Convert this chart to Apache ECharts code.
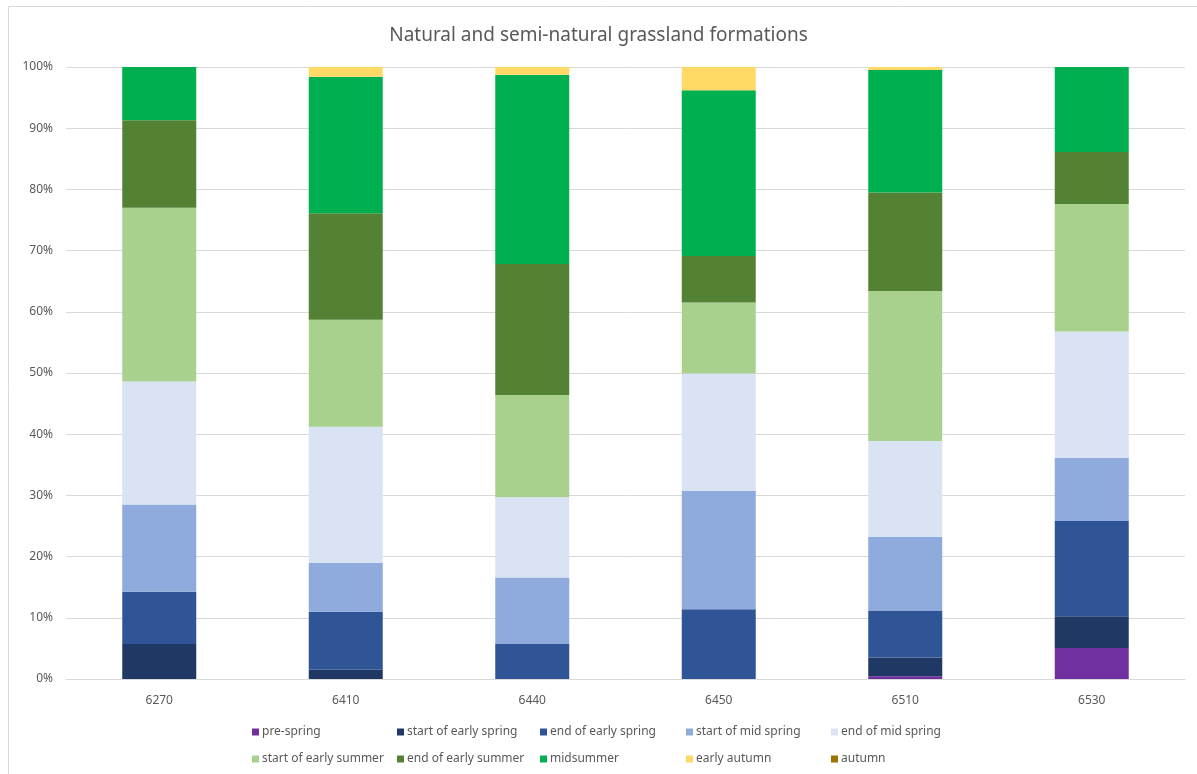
<!DOCTYPE html>
<html>
<head>
<meta charset="utf-8">
<script src="https://cdn.jsdelivr.net/npm/echarts@6/dist/echarts.min.js"></script>
<style>
  html, body { margin: 0; padding: 0; background: #fff; }
  #chart { width: 1197px; height: 774px; }
</style>
</head>
<body>
<div id="chart"></div>
<script>
// categories (site codes)
var categories = ['6270', '6410', '6440', '6450', '6510', '6530'];

// share of each phenological stage, in %
var preSpring          = [0,    0,    0,     0,    0.45, 5.05];
var startEarlySpring   = [5.7,  1.5,  0,     0,    3.05, 5.2];
var endEarlySpring     = [8.55, 9.5,  5.8,   11.4, 7.7,  15.55];
var startMidSpring     = [14.25,8.0,  10.8,  19.3, 12.0, 10.3];
var endMidSpring       = [20.1, 22.2, 13.1,  19.2, 15.7, 20.7];
var startEarlySummer   = [28.4, 17.5, 16.7,  11.6, 24.5, 20.8];
var endEarlySummer     = [14.3, 17.4, 21.4,  7.6,  16.1, 8.5];
var midsummer          = [8.7,  22.3, 30.95, 27.1, 20.0, 13.9];
var earlyAutumn        = [0,    1.6,  1.25,  3.8,  0.5,  0];
var autumn             = [0,    0,    0,     0,    0,    0];

var seriesNames = ['pre-spring', 'start of early spring', 'end of early spring',
  'start of mid spring', 'end of mid spring', 'start of early summer',
  'end of early summer', 'midsummer', 'early autumn', 'autumn'];
var seriesData = [preSpring, startEarlySpring, endEarlySpring, startMidSpring,
  endMidSpring, startEarlySummer, endEarlySummer, midsummer, earlyAutumn, autumn];
var colors = ['#7030A0', '#203864', '#2F5597', '#8FAADC', '#DAE3F3',
  '#A9D18E', '#548235', '#00B050', '#FFD966', '#9C7400'];

var fontFamily = '"Noto Sans", "Open Sans", sans-serif';

var series = [];
for (var i = 0; i < seriesNames.length; i++) {
  series.push({
    name: seriesNames[i],
    type: 'bar',
    stack: 'total',
    barWidth: 74,
    data: seriesData[i],
    itemStyle: { color: colors[i] }
  });
}

// legend laid out as a 5 x 2 table, one legend per entry
var legendCols = [252, 397, 540, 686, 831];
var legendRows = [726, 753];
var legends = [];
for (var j = 0; j < seriesNames.length; j++) {
  legends.push({
    data: [seriesNames[j]],
    left: legendCols[j % 5],
    top: legendRows[Math.floor(j / 5)],
    padding: 0,
    itemWidth: 7,
    itemHeight: 7,
    itemGap: 0,
    icon: 'rect',
    textStyle: { fontFamily: fontFamily, fontSize: 12, color: '#595959', padding: [0, 0, 0, -2] }
  });
}

var option = {
  animation: false,
  color: colors,
  title: {
    text: 'Natural and semi-natural grassland formations',
    left: 'center',
    top: 21,
    textStyle: { fontFamily: fontFamily, fontSize: 19, fontWeight: 'normal', color: '#595959' }
  },
  graphic: [{
    type: 'rect',
    shape: { x: 8.5, y: 6.5, width: 1300, height: 900 },
    style: { fill: 'none', stroke: '#d9d9d9', lineWidth: 1 },
    silent: true
  }],
  legend: legends,
  grid: {
    left: 66,
    right: 12,
    top: 67,
    bottom: 95
  },
  xAxis: {
    type: 'category',
    data: categories,
    axisLine: { lineStyle: { color: '#d9d9d9' } },
    axisTick: { show: false },
    axisLabel: { fontFamily: fontFamily, fontSize: 12, color: '#595959', margin: 16 }
  },
  yAxis: {
    type: 'value',
    min: 0,
    max: 100,
    interval: 10,
    axisLine: { show: false },
    axisTick: { show: false },
    splitLine: { lineStyle: { color: '#d9d9d9' } },
    axisLabel: {
      fontFamily: fontFamily,
      fontSize: 12,
      color: '#595959',
      margin: 13,
      formatter: '{value}%'
    }
  },
  series: series
};

var chart = echarts.init(document.getElementById('chart'));
chart.setOption(option);
</script>
</body>
</html>
